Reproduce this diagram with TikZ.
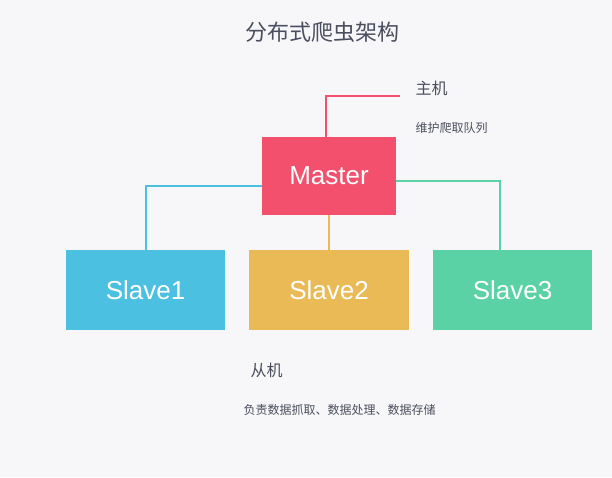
\documentclass[tikz,border=0pt]{standalone}
\usepackage{fontspec}
\setmainfont{Liberation Sans}
\newfontfamily\cjk{Noto Sans CJK SC}
\definecolor{bg}{HTML}{F7F7F9}
\definecolor{mred}{HTML}{F2506C}
\definecolor{scyan}{HTML}{4CC0E0}
\definecolor{syel}{HTML}{E9BA55}
\definecolor{sgrn}{HTML}{5AD2A6}
\definecolor{txt}{HTML}{4A4E5E}
\begin{document}
\begin{tikzpicture}[x=1pt,y=-1pt,
  box/.style={minimum width=#1, text=white, font=\fontsize{26}{30}\selectfont, inner sep=0pt},
  conn/.style={line width=2pt}]
\fill[bg] (0,0) rectangle (612,477);
\useasboundingbox (0,0) rectangle (612,477);
\node[text=txt,font=\cjk\fontsize{22}{26}\selectfont] (title) at (322,32) {分布式爬虫架构};
\node[box=134pt,minimum height=78pt,fill=mred] (m) at (329,176) {Master};
\node[box=159pt,minimum height=80pt,fill=scyan] (s1) at (145.5,290) {Slave1};
\node[box=160pt,minimum height=80pt,fill=syel] (s2) at (329,290) {Slave2};
\node[box=159pt,minimum height=80pt,fill=sgrn] (s3) at (512.5,290) {Slave3};
\coordinate (h) at (400,96);
\draw[conn,mred] (m.north) ++(-3,0) |- (h);
\draw[conn,scyan] (m.west) ++(0,10) -| (s1.north);
\draw[conn,syel] (m.south) -- (s2.north);
\draw[conn,sgrn] (m.east) ++(0,5) -| ([xshift=-12.5pt]s3.north);
\node[text=txt,font=\cjk\fontsize{16}{20}\selectfont,anchor=west] (zj) at (412,88) {主机};
\node[text=txt,font=\cjk\fontsize{12}{14}\selectfont,anchor=west] (zjd) at (412,128) {维护爬取队列};
\node[text=txt,font=\cjk\fontsize{16}{20}\selectfont,anchor=west] (cj) at (247,370) {从机};
\node[text=txt,font=\cjk\fontsize{12}{14}\selectfont,anchor=west] (cjd) at (240,410) {负责数据抓取、数据处理、数据存储};
\end{tikzpicture}
\end{document}
